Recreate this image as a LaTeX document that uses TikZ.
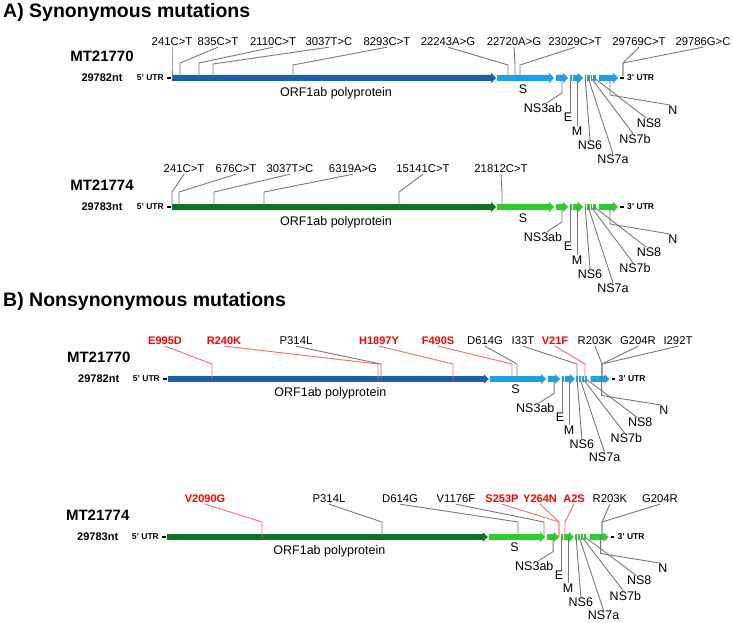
\documentclass[tikz,border=0pt]{standalone}
\usepackage{fontspec}
\setmainfont{Liberation Sans}
\definecolor{dblue}{RGB}{28,95,171}
\definecolor{lblue}{RGB}{27,161,236}
\definecolor{dgreen}{RGB}{16,112,36}
\definecolor{lgreen}{RGB}{45,205,45}
\definecolor{lgray}{RGB}{120,120,120}
\definecolor{lred}{RGB}{255,105,105}
\definecolor{mred}{RGB}{255,0,0}
\tikzset{
  mlabk/.style={font=\fontsize{11.3}{13}\selectfont, inner sep=1pt},
  mlabr/.style={font=\bfseries\fontsize{11}{13}\selectfont, text=mred, inner sep=1pt},
  linek/.style={draw=lgray, line width=0.9pt},
  liner/.style={draw=lred, line width=0.9pt},
  glab/.style={font=\fontsize{12.5}{14}\selectfont, inner sep=0.5pt},
  gline/.style={draw=lgray, line width=0.9pt},
  mtlab/.style={font=\bfseries\fontsize{15}{17}\selectfont, inner sep=0pt},
  ntlab/.style={font=\bfseries\fontsize{11}{13}\selectfont, inner sep=0pt},
  utrlab/.style={font=\bfseries\fontsize{8.5}{10}\selectfont, inner sep=0pt},
  ttl/.style={font=\bfseries\fontsize{19.5}{22}\selectfont, inner sep=0pt, anchor=base west},
}
\newcommand\garrow[3]{\fill[#1] (#2,-3) -- ({#3-5},-3) -- ({#3-5},-5) -- (#3,0) -- ({#3-5},5) -- ({#3-5},3) -- (#2,3) -- cycle;}
\newcommand\mut[9]{%
  \node[mlab#1] (#2) at (#4,#5) {#3};
  \coordinate (#2k) at (#6,#7);
  \coordinate (#2b) at (#8,#9);
  \draw[line#1] (#2.south) -- (#2k) -- (#2b);}
\newcommand\genome[8]{%
\begin{scope}[shift={(#1,#2)},#3]
  \garrow{#4}{0}{324}
  \garrow{#5}{325}{382}
  \garrow{#5}{384}{396}
  \fill[#5] (398,-3) rectangle (399.5,3);
  \garrow{#5}{401}{411}
  \fill[#5] (412.5,-3) rectangle (414,3);
  \fill[#5] (415,-3) rectangle (417.5,3);
  \fill[#5] (418.5,-3) rectangle (420,3);
  \fill[#5] (421,-3) rectangle (423.5,3);
  \garrow{#5}{427}{446}
  \fill[black] (-5,-0.9) rectangle (-1.5,0.9);
  \fill[black] (448,-0.9) rectangle (452,0.9);
  \node[utrlab, anchor=east] (#6-u5) at (-8,0) {5' UTR};
  \node[utrlab, anchor=west] (#6-u3) at (455,0) {3' UTR};
  \node[mtlab] (#6-mt) at (-70,-22) {#7};
  \node[ntlab] (#6-nt) at (-70,0) {#8};
  \node[glab] (#6-orf) at (164,15) {ORF1ab polyprotein};
  \node[glab] (#6-S) at (351,11) {S};
  \node[glab] (#6-ns3) at (371,30) {NS3ab};
  \node[glab] (#6-E) at (396,39) {E};
  \node[glab] (#6-M) at (405,53) {M};
  \node[glab] (#6-n6) at (418,67) {NS6};
  \node[glab] (#6-n7a) at (441,81) {NS7a};
  \node[glab] (#6-n7b) at (463,61) {NS7b};
  \node[glab] (#6-n8) at (477,45) {NS8};
  \node[glab] (#6-N) at (501,32) {N};
  \coordinate (#6-ns3b) at (390,0); \coordinate (#6-ns3k) at (390,15);
  \coordinate (#6-Eb) at (398.7,0);
  \coordinate (#6-Mb) at (405,0);
  \coordinate (#6-n6b) at (413.2,0);
  \coordinate (#6-n7ab) at (416.2,0);
  \coordinate (#6-n7bb) at (419.2,0);
  \coordinate (#6-n8b) at (422.2,0);
  \coordinate (#6-Nb) at (438,0); \coordinate (#6-Nk) at (438,17);
  \draw[gline] (#6-ns3b) -- (#6-ns3k) -- ([xshift=4pt]#6-ns3.north);
  \draw[gline] (#6-Eb) -- (#6-Eb |- #6-E.north);
  \draw[gline] (#6-Mb) -- (#6-Mb |- #6-M.north);
  \draw[gline] (#6-n6b) -- (#6-n6.north);
  \draw[gline] (#6-n7ab) -- (#6-n7a.north);
  \draw[gline] (#6-n7bb) -- ([xshift=-2pt]#6-n7b.north);
  \draw[gline] (#6-n8b) -- ([xshift=-3pt]#6-n8.north);
  \draw[gline] (#6-Nb) -- (#6-Nk) -- ([xshift=-3pt]#6-N.north);
\end{scope}}
\begin{document}
\begin{tikzpicture}[x=1pt,y=-1pt]
\useasboundingbox (0,0) rectangle (733,623);
\node[ttl] (tA) at (3,18) {A) Synonymous mutations};
\node[ttl] (tB) at (3,306) {B) Nonsynonymous mutations};

% ---- A, MT21770
\genome{172}{78}{xscale=1}{dblue}{lblue}{ga}{MT21770}{29782nt}
\mut{k}{a1}{241C>T}{172}{42}{172}{63}{172}{78}
\mut{k}{a2}{835C>T}{218}{42}{180}{63}{180}{78}
\mut{k}{a3}{2110C>T}{273}{42}{199}{63}{199}{78}
\mut{k}{a4}{3037T>C}{329}{42}{213}{64}{213}{78}
\mut{k}{a5}{8293C>T}{387}{42}{293}{65}{293}{78}
\mut{k}{a6}{22243A>G}{448}{42}{508}{65}{508}{78}
\mut{k}{a7}{22720A>G}{514}{42}{515}{65}{515}{78}
\mut{k}{a8}{23029C>T}{575}{42}{520}{65}{520}{78}
\mut{k}{a9}{29769C>T}{639}{42}{623}{63}{623}{76}
\mut{k}{a10}{29786G>C}{703}{42}{623}{63}{623}{76}

% ---- A, MT21774
\genome{172}{207}{xscale=1}{dgreen}{lgreen}{gb}{MT21774}{29783nt}
\mut{k}{d1}{241C>T}{184}{169}{172}{192}{172}{207}
\mut{k}{d2}{676C>T}{236}{169}{179}{192}{179}{207}
\mut{k}{d3}{3037T>C}{290}{169}{214}{192}{214}{207}
\mut{k}{d4}{6319A>G}{353}{169}{264}{192}{264}{207}
\mut{k}{d5}{15141C>T}{423}{169}{399}{192}{399}{207}
\mut{k}{d6}{21812C>T}{501}{169}{502}{192}{502}{207}

% ---- B, MT21770
\genome{168}{379}{xscale=0.99,yscale=0.97}{dblue}{lblue}{gc}{MT21770}{29782nt}
\mut{r}{b1}{E995D}{165}{341}{212}{364}{212}{379}
\mut{r}{b2}{R240K}{224}{341}{378}{364}{378}{379}
\mut{k}{b3}{P314L}{296}{341}{381}{364}{381}{379}
\mut{r}{b4}{H1897Y}{379}{341}{453}{364}{453}{379}
\mut{r}{b5}{F490S}{438}{341}{512}{364}{512}{379}
\mut{k}{b6}{D614G}{485}{341}{517}{364}{517}{379}
\mut{k}{b7}{I33T}{523}{341}{577}{364}{577}{379}
\mut{r}{b8}{V21F}{555}{341}{585}{364}{585}{379}
\mut{k}{b9}{R203K}{595}{341}{602}{364}{602}{379}
\mut{k}{b10}{G204R}{638}{341}{602}{364}{602}{379}
\mut{k}{b11}{I292T}{678}{341}{602}{364}{602}{379}

% ---- B, MT21774
\genome{167}{537}{xscale=0.99,yscale=0.97}{dgreen}{lgreen}{gd}{MT21774}{29783nt}
\mut{r}{c1}{V2090G}{205}{499}{262}{522}{262}{537}
\mut{k}{c2}{P314L}{329}{499}{382}{522}{382}{537}
\mut{k}{c3}{D614G}{400}{499}{518}{522}{518}{537}
\mut{k}{c4}{V1176F}{456}{499}{544}{522}{544}{537}
\mut{r}{c5}{S253P}{502}{499}{559}{522}{559}{537}
\mut{r}{c6}{Y264N}{540}{499}{559}{522}{559}{537}
\mut{r}{c7}{A2S}{574}{499}{565}{522}{565}{537}
\mut{k}{c8}{R203K}{610}{499}{602}{522}{602}{537}
\mut{k}{c9}{G204R}{660}{499}{602}{522}{602}{537}
\end{tikzpicture}
\end{document}
